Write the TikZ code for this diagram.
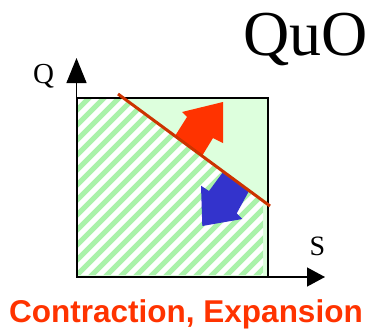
\documentclass[tikz,border=0pt]{standalone}
\usepackage{fontspec}
\setmainfont{Liberation Serif}
\newfontfamily\capfont{Liberation Sans}
\usetikzlibrary{arrows.meta}
\definecolor{boxgreen}{RGB}{221,255,221}
\definecolor{stripegreen}{RGB}{170,242,170}
\definecolor{rustline}{RGB}{204,51,0}
\definecolor{arrowred}{RGB}{255,51,0}
\definecolor{arrowblue}{RGB}{51,51,204}
\definecolor{captionred}{RGB}{255,51,0}
\begin{document}
\begin{tikzpicture}[x=1pt,y=-1pt,
  stripe/.style={stripegreen,line width=5.2pt},
  axisline/.style={black,line width=1.3pt},
  boxframe/.style={draw=black,line width=1.8pt},
  lbl/.style={anchor=base,inner sep=0pt,outer sep=0pt}]
\useasboundingbox (0,0) rectangle (371,332);
% region box
\fill[boxgreen] (77,98) rectangle (268,277);
% hatched region below the line
\begin{scope}
  \clip (77,98) -- (123.4,98) -- (263,200.8) -- (263,275) -- (77,275) -- cycle;
  \fill[white] (70,90) rectangle (280,290);
  \foreach \c in {172,187,...,562}
    \draw[stripe] ({\c-85},85) -- ({\c-290},290);
\end{scope}
% block arrows
\fill[arrowred] (175,136) -- (187,117) -- (182,112) -- (223,102) -- (223,143) -- (213,138) -- (202,156) -- cycle;
\fill[arrowblue] (223,172) -- (209,191) -- (201,185.7) -- (202.3,226) -- (242.3,219) -- (236.7,213.3) -- (249,191) -- cycle;
% frame
\draw[boxframe] (77,98) rectangle (268,277);
% axes
\coordinate (O) at (76.5,277);
\coordinate (ytip) at (76.5,58);
\coordinate (xtip) at (325,277);
\draw[axisline,-{Triangle[length=25pt,width=20pt]}] (O) -- (ytip);
\draw[axisline,-{Triangle[length=18pt,width=19pt]}] (O) -- (xtip);
% constraint line
\coordinate (la) at (118,94);
\coordinate (lb) at (270,206);
\draw[rustline,line width=3pt] (la) -- (lb);
% labels
\node[lbl,font=\fontsize{29}{29}\selectfont] (q) at (43.7,83.3) {Q};
\node[lbl,font=\fontsize{28}{28}\selectfont] (s) at (317.5,255) {S};
\node[lbl,font=\fontsize{64}{64}\selectfont] (quo) at (306,55) {QuO};
\node[lbl,font=\capfont\bfseries\fontsize{31.5}{31.5}\selectfont,text=captionred] (cap) at (186,322.7) {Contraction, Expansion};
\end{tikzpicture}
\end{document}
